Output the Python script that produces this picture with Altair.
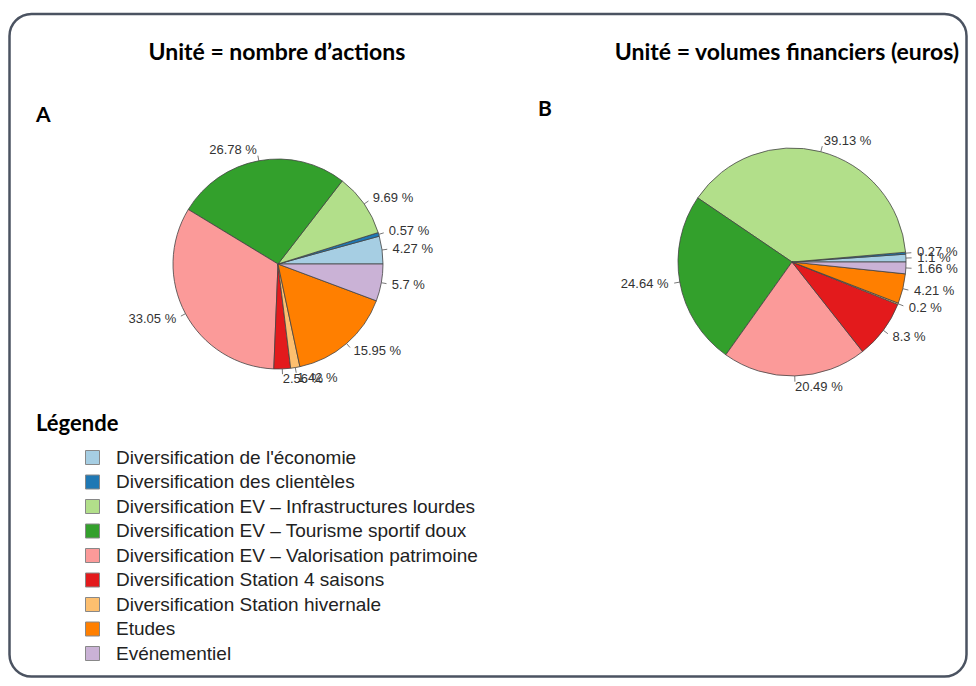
import math
import altair as alt
import pandas as pd

categories = [
    "Diversification de l'économie",
    "Diversification des clientèles",
    "Diversification EV – Infrastructures lourdes",
    "Diversification EV – Tourisme sportif doux",
    "Diversification EV – Valorisation patrimoine",
    "Diversification Station 4 saisons",
    "Diversification Station hivernale",
    "Etudes",
    "Evénementiel",
]
palette = ["#A6CEE3", "#1F78B4", "#B2DF8A", "#33A02C", "#FB9A99",
           "#E31A1C", "#FDBF6F", "#FF7F00", "#CAB2D6"]
values_A = [4.27, 0.57, 9.69, 26.78, 33.05, 2.56, 1.42, 15.95, 5.7]
values_B = [1.1, 0.27, 39.13, 24.64, 20.49, 8.3, 0.2, 4.21, 1.66]
titles = ["Unité = nombre d’actions", "Unité = volumes financiers (euros)"]
letters = ["A", "B"]
legend_title = "Légende"

rows = []
for pie, vals in (("A", values_A), ("B", values_B)):
    for i, (c, v) in enumerate(zip(categories, vals)):
        rows.append({"pie": pie, "cat": c, "idx": i, "value": v, "label": f"{v:g} %"})
df = pd.DataFrame(rows)

W, H = 960, 670
xs = alt.Scale(domain=[0, W], nice=False, zero=False)
ys = alt.Scale(domain=[0, H], nice=False, zero=False, reverse=True)
theta_scale = alt.Scale(domain=[0, 1], range=[2.5 * math.pi, 0.5 * math.pi])
color_scale = alt.Scale(domain=categories, range=palette)

# layout of each pie: centre and radius (pixels)
geo = {"A": (270, 256, 105), "B": (784, 254, 114)}


def pie_layers(name, with_legend):
    cx, cy, r = geo[name]
    base = (
        alt.Chart(df)
        .transform_filter(alt.datum.pie == name)
        .transform_window(cum="sum(value)", sort=[alt.SortField("idx", order="ascending")], frame=[None, 0])
        .transform_joinaggregate(total="sum(value)")
        .transform_calculate(f0="(datum.cum - datum.value) / datum.total")
        .transform_calculate(f1="datum.cum / datum.total")
        .transform_calculate(ang="2 * PI * (datum.cum - datum.value / 2) / datum.total")
        .transform_calculate(c="cos(datum.ang)")
        .transform_calculate(s="sin(datum.ang)")
        .transform_calculate(x0=f"{cx} + {r} * datum.c")
        .transform_calculate(y0=f"{cy} - {r} * datum.s")
        .transform_calculate(x1=f"{cx} + {1.05 * r} * datum.c")
        .transform_calculate(y1=f"{cy} - {1.05 * r} * datum.s")
        .transform_calculate(lx=f"{cx} + {1.1 * r} * datum.c")
        .transform_calculate(ly=f"{cy} - {1.1 * r} * datum.s")
    )
    legend = None
    if with_legend:
        legend = alt.Legend(
            title=None, orient="none", legendX=75, legendY=440,
            symbolType="square", symbolSize=196, symbolStrokeWidth=1,
            symbolStrokeColor="#888", labelFont="Liberation Sans",
            labelFontSize=19, labelColor="#222", labelOffset=14,
            rowPadding=4.5, padding=0, labelLimit=600,
        )
    arcs = base.mark_arc(outerRadius=r, stroke="#444", strokeWidth=0.8).encode(
        x=alt.value(cx), y=alt.value(cy),
        theta=alt.Theta("f0:Q", scale=theta_scale, stack=None),
        theta2="f1:Q",
        color=alt.Color("cat:N", scale=color_scale, legend=legend, sort=categories),
    )
    ticks = base.mark_rule(color="#555", strokeWidth=0.8).encode(
        x=alt.X("x0:Q", scale=xs, axis=None), y=alt.Y("y0:Q", scale=ys, axis=None),
        x2="x1:Q", y2="y1:Q",
    )
    lab_r = base.transform_filter("datum.c > 0").mark_text(
        align="left", baseline="middle", font="Liberation Sans", fontSize=13, color="#333"
    ).encode(x=alt.X("lx:Q", scale=xs, axis=None), y=alt.Y("ly:Q", scale=ys, axis=None), text="label:N")
    lab_l = base.transform_filter("datum.c <= 0").mark_text(
        align="right", baseline="middle", font="Liberation Sans", fontSize=13, color="#333"
    ).encode(x=alt.X("lx:Q", scale=xs, axis=None), y=alt.Y("ly:Q", scale=ys, axis=None), text="label:N")
    return [arcs, ticks, lab_r, lab_l]


one = pd.DataFrame({"k": [0]})
border = alt.Chart(one).mark_rect(
    fill="white", stroke="#4b5361", strokeWidth=2.5, cornerRadius=22
).encode(x=alt.value(1.5), x2=alt.value(958.5), y=alt.value(6), y2=alt.value(668.5))


def txt(s, x, y, size, align="center"):
    return alt.Chart(pd.DataFrame({"t": [s]})).mark_text(
        font="Lato", fontWeight="bold", fontSize=size, color="#000",
        align=align, baseline="middle"
    ).encode(text="t:N", x=alt.value(x), y=alt.value(y))


texts = [
    txt(titles[0], 269, 45, 23),
    txt(titles[1], 779, 45, 23),
    txt(letters[0], 28, 108, 21, "left"),
    txt(letters[1], 530, 102, 21, "left"),
    txt(legend_title, 28, 416, 22, "left"),
]

chart = alt.layer(
    border, *pie_layers("A", True), *pie_layers("B", False), *texts
).properties(
    width=W, height=H, padding=0,
    autosize=alt.AutoSizeParams(type="fit", contains="padding"),
).configure_view(stroke=None)

chart.save("out.html", embed_options={"renderer": "svg", "actions": False})
